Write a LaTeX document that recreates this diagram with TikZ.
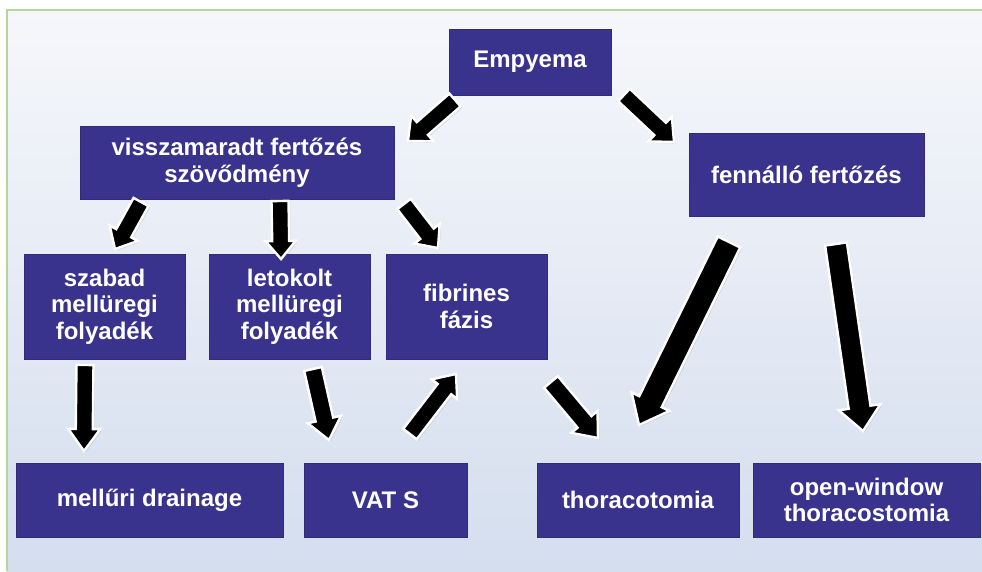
\documentclass[tikz,border=0pt]{standalone}
\usepackage{fontspec}
\setmainfont{Liberation Sans}
\usetikzlibrary{calc,shadows}
\definecolor{boxc}{RGB}{58,51,142}
\definecolor{bgtop}{RGB}{246,247,251}
\definecolor{bgbot}{RGB}{212,222,238}
\definecolor{framec}{RGB}{180,215,152}
\newcommand\blockarrowx[5]{%
  \path ($(#2)!#5!(#1)$) coordinate (bap);
  \draw[barr] ($(#1)!#3!90:(#2)$) -- ($(bap)!#3!-90:(#1)$) -- ($(bap)!#4!-90:(#1)$) -- (#2) -- ($(bap)!#4!90:(#1)$) -- ($(bap)!#3!90:(#1)$) -- ($(#1)!#3!-90:(#2)$) -- cycle;}
\begin{document}
\begin{tikzpicture}[x=1pt,y=-1pt,
  box/.style={rectangle, fill=boxc, draw=boxc!85!black, line width=0.5pt, text=white,
    font=\bfseries\fontsize{24}{26.5}\selectfont, align=center, inner sep=0pt},
  barr/.style={fill=black, draw=white, line width=2.4pt, line join=miter,
    drop shadow={opacity=0.22, shadow xshift=1.5pt, shadow yshift=-1.5pt}}]
\useasboundingbox (0,0) rectangle (982,571);
\fill[white] (0,0) rectangle (982,571);
\shade[top color=bgtop, bottom color=bgbot] (7,10) rectangle (982,571);
\draw[framec, line width=1.5pt] (982,10) -- (7,10) -- (7,571);

% nodes
\node[box, minimum width=162pt, minimum height=66pt] (emp) at (530,62) {Empyema};
\node[box, minimum width=314pt, minimum height=73pt] (vissza) at (237,162.5) {visszamaradt fertőzés\\szövődmény};
\node[box, minimum width=235pt, minimum height=83pt] (fenn) at (806.5,174.5) {fennálló fertőzés};
\node[box, minimum width=161pt, minimum height=105pt] (szabad) at (104.5,306.5) {szabad\\mellüregi\\folyadék};
\node[box, minimum width=161pt, minimum height=105pt] (letok) at (289.5,306.5) {letokolt\\mellüregi\\folyadék};
\node[box, minimum width=161pt, minimum height=105pt] (fibr) at (466.5,306.5) {fibrines\\fázis};
\node[box, minimum width=267pt, minimum height=74pt] (drain) at (149.5,500) {mellűri drainage};
\node[box, minimum width=163pt, minimum height=74pt] (vats) at (385.5,500) {VAT S};
\node[box, minimum width=202pt, minimum height=74pt] (thorac) at (638,500) {thoracotomia};
\node[box, minimum width=227pt, minimum height=74pt] (openw) at (866.5,500) {open-window\\thoracostomia};

% arrow end points
\coordinate (a1s) at (455,100);   \coordinate (a1e) at (408,141);
\coordinate (a2s) at (624,95);    \coordinate (a2e) at (674,142);
\coordinate (a3s) at (141,202);   \coordinate (a3e) at (115,249);
\coordinate (a4s) at (280,201);   \coordinate (a4e) at (281,259);
\coordinate (a5s) at (404,204);   \coordinate (a5e) at (438,248);
\coordinate (a6s) at (729,242);   \coordinate (a6e) at (639,425);
\coordinate (a7s) at (836,244);   \coordinate (a7e) at (863,431);
\coordinate (a8s) at (85,365);    \coordinate (a8e) at (84,451);
\coordinate (a9s) at (313,369);   \coordinate (a9e) at (329,440);
\coordinate (a10s) at (410,434);  \coordinate (a10e) at (456,374);
\coordinate (a11s) at (551,382);  \coordinate (a11e) at (598,438);

\blockarrowx{a1s}{a1e}{8.5pt}{17pt}{19pt}
\blockarrowx{a2s}{a2e}{8.5pt}{17pt}{19pt}
\blockarrowx{a3s}{a3e}{8.5pt}{16pt}{18pt}
\blockarrowx{a4s}{a4e}{8.5pt}{15pt}{18pt}
\blockarrowx{a5s}{a5e}{8.5pt}{16pt}{18pt}
\blockarrowx{a6s}{a6e}{12.5pt}{21pt}{26pt}
\blockarrowx{a7s}{a7e}{11pt}{21pt}{24pt}
\blockarrowx{a8s}{a8e}{8.5pt}{16pt}{22pt}
\blockarrowx{a9s}{a9e}{9pt}{17pt}{21pt}
\blockarrowx{a10s}{a10e}{8.5pt}{16pt}{19pt}
\blockarrowx{a11s}{a11e}{9pt}{17pt}{21pt}
\end{tikzpicture}
\end{document}
